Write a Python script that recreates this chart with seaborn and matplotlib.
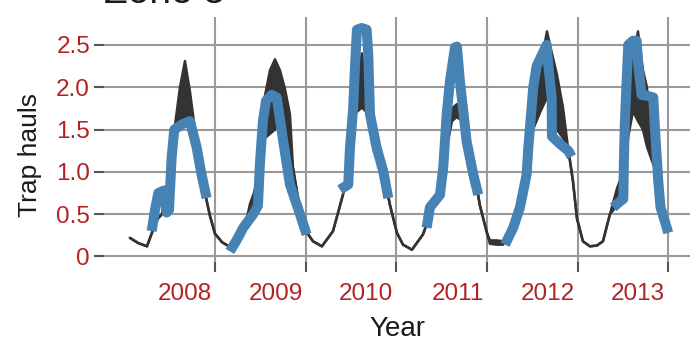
import matplotlib
matplotlib.use("Agg")
import matplotlib.pyplot as plt
import matplotlib.transforms as mtransforms
import pandas as pd
import seaborn as sns

# Axis ticks
year_ticks = [2008, 2009, 2010, 2011, 2012, 2013]
year_labels = ["2008", "2009", "2010", "2011", "2012", "2013"]
haul_ticks = [0, 0.5, 1.0, 1.5, 2.0, 2.5]
haul_labels = ["0", "0.5", "1.0", "1.5", "2.0", "2.5"]

# Modelled seasonal trap hauls (decimal year, lower and upper envelope)
model_time = [
    2007.062, 2007.151, 2007.250, 2007.305, 2007.371, 2007.415, 2007.482, 2007.559,
    2007.614, 2007.669, 2007.724, 2007.779, 2007.835, 2007.890, 2007.945, 2008.000,
    2008.077, 2008.154, 2008.221, 2008.276, 2008.331, 2008.386, 2008.430, 2008.496,
    2008.552, 2008.607, 2008.662, 2008.717, 2008.772, 2008.827, 2008.860, 2008.938,
    2009.004, 2009.081, 2009.180, 2009.302, 2009.412, 2009.489, 2009.555, 2009.621,
    2009.677, 2009.732, 2009.820, 2009.930, 2010.007, 2010.074, 2010.173, 2010.294,
    2010.394, 2010.482, 2010.559, 2010.614, 2010.669, 2010.724, 2010.813, 2010.923,
    2011.000, 2011.033, 2011.111, 2011.177, 2011.254, 2011.364, 2011.441, 2011.508,
    2011.585, 2011.662, 2011.717, 2011.772, 2011.839, 2011.894, 2011.949, 2011.993,
    2012.059, 2012.136, 2012.214, 2012.280, 2012.357, 2012.434, 2012.500, 2012.556,
    2012.611, 2012.666, 2012.721, 2012.765, 2012.798, 2012.864, 2012.942, 2012.997,
]
model_low = [
    0.22, 0.16, 0.12, 0.28, 0.45, 0.50, 0.85, 1.45,
    1.50, 1.55, 1.55, 1.40, 1.10, 0.75, 0.48, 0.27,
    0.17, 0.12, 0.12, 0.20, 0.35, 0.55, 0.60, 0.95,
    1.40, 1.45, 1.50, 1.60, 1.50, 1.30, 1.05, 0.55,
    0.30, 0.18, 0.12, 0.30, 0.73, 1.20, 1.70, 1.76,
    1.70, 1.50, 1.20, 0.61, 0.28, 0.14, 0.08, 0.26,
    0.55, 0.75, 1.30, 1.60, 1.65, 1.60, 1.29, 0.60,
    0.28, 0.15, 0.14, 0.14, 0.25, 0.50, 0.90, 1.50,
    1.70, 1.88, 1.70, 1.50, 1.40, 1.29, 0.89, 0.45,
    0.18, 0.12, 0.13, 0.18, 0.50, 0.60, 0.90, 1.40,
    1.72, 1.60, 1.50, 1.30, 1.20, 1.00, 0.58, 0.30,
]
model_high = [
    0.22, 0.16, 0.12, 0.28, 0.45, 0.50, 0.85, 1.55,
    2.00, 2.31, 1.95, 1.50, 1.10, 0.75, 0.48, 0.27,
    0.17, 0.12, 0.12, 0.20, 0.35, 0.62, 0.75, 1.05,
    1.90, 2.20, 2.33, 2.20, 1.98, 1.68, 1.05, 0.55,
    0.30, 0.18, 0.12, 0.30, 0.73, 1.20, 2.00, 2.40,
    1.90, 1.50, 1.20, 0.61, 0.28, 0.14, 0.08, 0.26,
    0.55, 0.75, 1.30, 1.75, 1.80, 1.75, 1.29, 0.60,
    0.28, 0.19, 0.19, 0.18, 0.25, 0.50, 0.90, 1.70,
    2.20, 2.66, 2.40, 2.15, 1.76, 1.29, 0.89, 0.45,
    0.18, 0.12, 0.13, 0.18, 0.50, 0.80, 1.00, 1.80,
    2.30, 2.66, 2.20, 2.00, 1.56, 1.00, 0.58, 0.30,
]

# Observed trap hauls, one run per trapping season
obs_season = (
    [2007] * 13 + [2008] * 14 + [2009] * 13 + [2010] * 12 + [2011] * 14 + [2012] * 18
)
obs_time = [
    2007.302, 2007.338, 2007.375, 2007.437, 2007.467, 2007.493, 2007.522, 2007.551,
    2007.633, 2007.724, 2007.798, 2007.846, 2007.908,
    2008.165, 2008.243, 2008.312, 2008.422, 2008.474, 2008.496, 2008.529, 2008.563,
    2008.625, 2008.681, 2008.753, 2008.827, 2008.938, 2009.011,
    2009.379, 2009.470, 2009.489, 2009.525, 2009.544, 2009.566, 2009.618, 2009.673,
    2009.691, 2009.710, 2009.784, 2009.856, 2009.912,
    2010.335, 2010.371, 2010.482, 2010.518, 2010.556, 2010.592, 2010.647, 2010.669,
    2010.702, 2010.776, 2010.849, 2010.904,
    2011.199, 2011.290, 2011.364, 2011.438, 2011.456, 2011.511, 2011.548, 2011.659,
    2011.676, 2011.714, 2011.717, 2011.805, 2011.897, 2011.934,
    2012.393, 2012.467, 2012.504, 2012.511, 2012.522, 2012.541, 2012.559, 2012.611,
    2012.651, 2012.669, 2012.706, 2012.765, 2012.835, 2012.853, 2012.890, 2012.915,
    2012.953, 2013.000,
]
obs_hauls = [
    0.30, 0.55, 0.75, 0.78, 0.52, 0.55, 1.17, 1.50, 1.56, 1.60, 1.29, 1.00, 0.69,
    0.06, 0.20, 0.34, 0.50, 0.60, 1.10, 1.60, 1.84, 1.91, 1.88, 1.36, 0.85, 0.50, 0.26,
    0.79, 0.85, 1.28, 1.76, 2.23, 2.68, 2.70, 2.68, 2.39, 1.68, 1.28, 1.01, 0.69,
    0.34, 0.58, 0.73, 1.05, 1.68, 2.07, 2.47, 2.48, 2.07, 1.36, 0.97, 0.73,
    0.14, 0.34, 0.58, 0.97, 1.28, 2.00, 2.25, 2.50, 2.27, 1.88, 1.42, 1.33, 1.25, 1.18,
    0.58, 0.65, 0.68, 1.13, 1.60, 2.07, 2.50, 2.55, 2.55, 2.27, 1.91, 1.90, 1.88, 1.52,
    0.89, 0.58, 0.45, 0.28,
]

model = pd.DataFrame({"time": model_time, "low": model_low, "high": model_high})
obs = pd.DataFrame({"season": obs_season, "time": obs_time, "hauls": obs_hauls})

sns.set_theme(style="white")
plt.rcParams["font.family"] = ["Liberation Sans", "DejaVu Sans"]

DARK = "#333333"
BLUE = "#4682B4"
LABEL_RED = "#B22222"

fig = plt.figure(figsize=(6.9, 3.41), dpi=100)
ax = fig.add_axes([104 / 690, 79 / 341, 586 / 690, 245 / 341])

# Model envelope: filled band with thin edge lines
ax.fill_between(model["time"], model["low"], model["high"], color=DARK, lw=0, zorder=2)
sns.lineplot(data=model, x="time", y="low", color=DARK, lw=1.8, ax=ax,
             estimator=None, sort=False, zorder=3)
sns.lineplot(data=model, x="time", y="high", color=DARK, lw=1.8, ax=ax,
             estimator=None, sort=False, zorder=3)

# Observations
sns.lineplot(data=obs, x="time", y="hauls", units="season", estimator=None,
             sort=False, color=BLUE, lw=7.2, ax=ax, zorder=4,
             solid_joinstyle="round", solid_capstyle="butt")

ax.set_xlim(2006.776, 2013.24)
ax.set_ylim(-0.065, 2.83)
ax.set_xticks(year_ticks)
ax.set_xticklabels(year_labels)
ax.set_yticks(haul_ticks)
ax.set_yticklabels(haul_labels)

ax.grid(True, color="#9a9a9a", lw=1.5)
ax.set_axisbelow(True)
for s in ax.spines.values():
    s.set_visible(False)

ax.tick_params(axis="both", length=7, width=1.5, color="#555555",
               labelcolor=LABEL_RED, labelsize=17.5)
ax.tick_params(axis="x", bottom=True, pad=8)
ax.tick_params(axis="y", left=True, pad=3)
shift = mtransforms.ScaledTranslation(-3 / 100, 0, fig.dpi_scale_trans)
for lab in ax.get_xticklabels():
    lab.set_horizontalalignment("right")
    lab.set_transform(lab.get_transform() + shift)

ax.set_xlabel("Year", fontsize=20, color="#1a1a1a")
ax.set_ylabel("Trap hauls", fontsize=19, color="#1a1a1a")
ax.xaxis.set_label_coords(0.5, -0.22)
ax.yaxis.set_label_coords(-0.106, 0.437)

fig.text(104 / 690, 1 - 3 / 341, "Zone 3", fontsize=28, color="#1a1a1a",
         ha="left", va="baseline")

fig.savefig("out.png", dpi=100, facecolor="white")
